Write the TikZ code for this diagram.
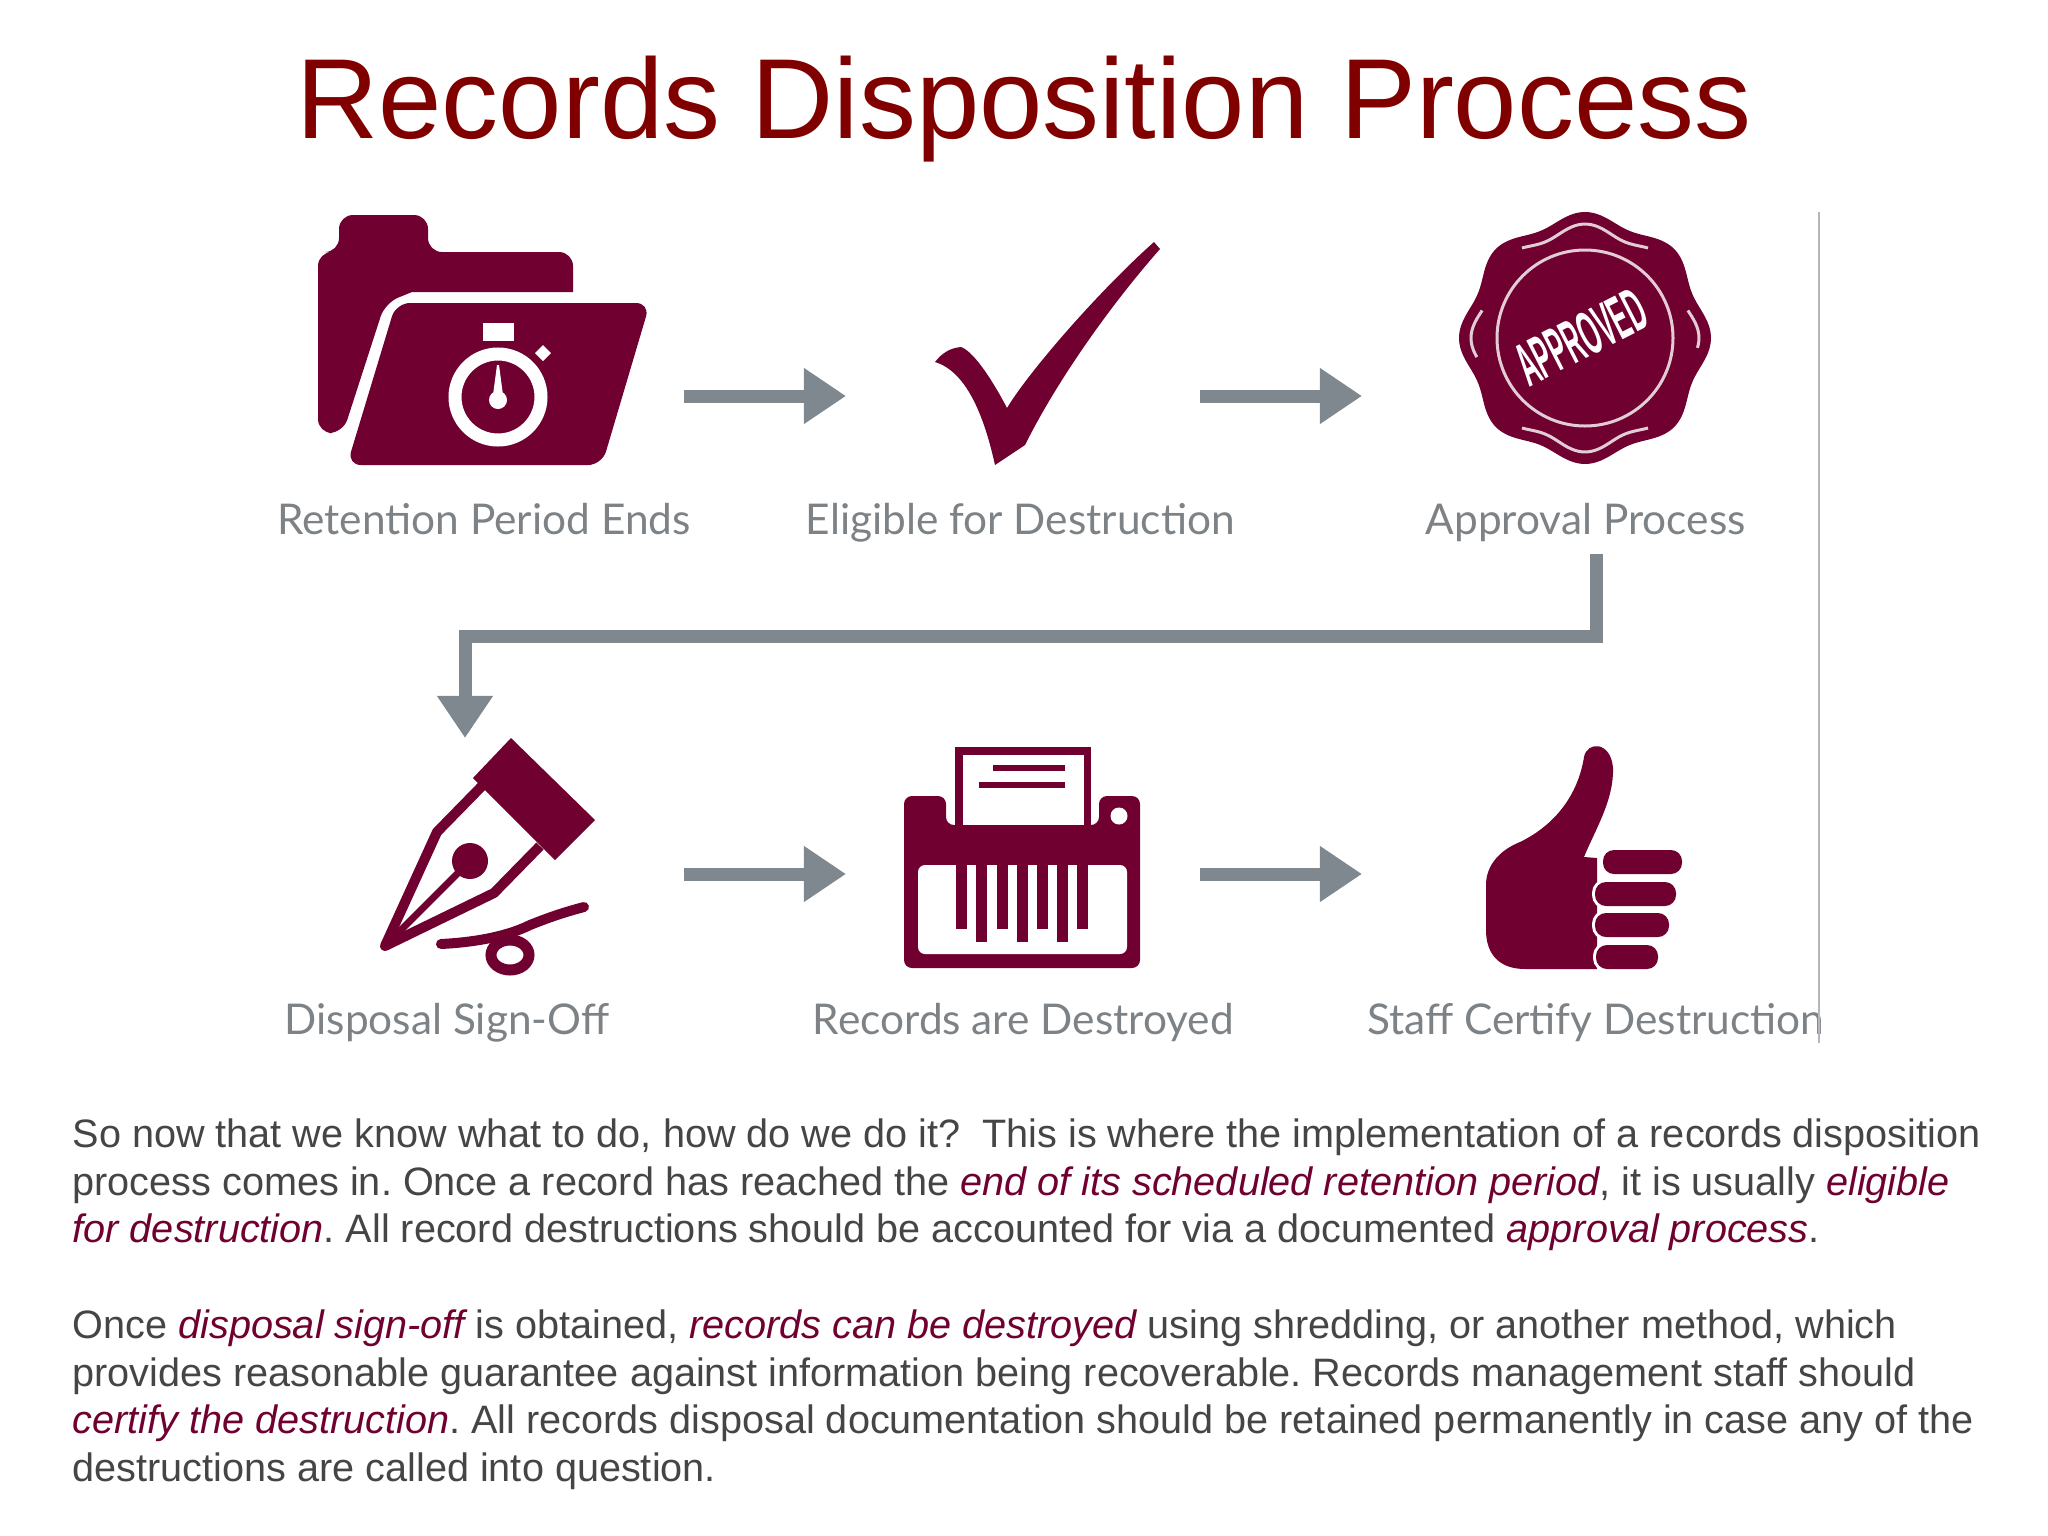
\documentclass[tikz,border=0pt]{standalone}
\usepackage{fontspec}
\setmainfont{Liberation Sans}
\newfontfamily\capfont{Lato}
\usetikzlibrary{arrows.meta,positioning}

\definecolor{maroon}{HTML}{6F0030}
\definecolor{titlered}{HTML}{800000}
\definecolor{bodygray}{HTML}{454545}
\definecolor{capgray}{HTML}{7C8286}
\definecolor{arrowgray}{HTML}{7F888E}
\definecolor{rulegray}{HTML}{B4B8BC}

\tikzstyle{caption} = [inner sep=0pt, text=capgray, font=\capfont\fontsize{12.05}{15}\selectfont, anchor=base]
\tikzstyle{arrow} = [line width=0.13cm, arrowgray, -{Triangle[length=0.42cm,width=0.53cm]}]
\tikzstyle{icon} = [fill=maroon, draw=none]
\tikzstyle{inkline} = [draw=maroon, line width=0.10cm]
\tikzstyle{finger} = [fill=maroon, rounded corners=0.11cm, preaction={draw=white, line width=0.06cm}]
\tikzstyle{rim} = [draw=white!80!maroon, line width=0.03cm]

\newcommand{\hilite}[1]{{\color{maroon}\itshape #1}}

\begin{document}
\frenchspacing
\begin{tikzpicture}[x=0.01cm, y=-0.01cm]
  \useasboundingbox (0,0) rectangle (2048,1536);

  \node (Title) [inner sep=0pt, anchor=base, text=titlered, font=\fontsize{32.37}{36}\selectfont] at (1024,138) {Records Disposition Process};

  % folder
  \fill [icon, rounded corners=0.14cm] (318,252) -- (339,252) -- (339,215) -- (428,215) -- (428,252) -- (573,252) [sharp corners] -- (573,292) -- (412,292) [rounded corners=0.14cm] -- (385,303) -- (343,433) -- (318,433) -- cycle;
  \fill [icon, rounded corners=0.14cm] (396,303) -- (650,303) -- (602,465) -- (347,465) -- cycle;
  \draw [white, line width=0.13cm] (498,397) circle [radius=43];
  \fill [white] (483,323) rectangle (514,341);
  \fill [white] (543,345) -- (551,353) -- (543,361) -- (535,353) -- cycle;
  \fill [white] (497,365) -- (499,365) -- (503,395) -- (493,395) -- cycle;
  \fill [white] (498,400) circle [radius=9];

  % check mark
  \fill [icon] (935,362) .. controls (942,353) and (950,348) .. (961,347) .. controls (975,352) and (995,385) .. (1007,408) .. controls (1030,370) and (1100,290) .. (1154,242) -- (1160,249) .. controls (1115,300) and (1060,375) .. (1025,445) -- (995,465) .. controls (985,420) and (968,372) .. (935,362) -- cycle;

  % seal
  \fill [icon] plot [domain=0:360, samples=145, smooth] ({1585+(121+5*cos(8*\x))*cos(\x)}, {338+(121+5*cos(8*\x))*sin(\x)}) -- cycle;
  \draw [rim] (1585,338) circle [radius=88];
  \draw [rim] plot [domain=235:305, samples=36, smooth] ({1585+(109+5*cos(8*\x))*cos(\x)}, {338+(109+5*cos(8*\x))*sin(\x)});
  \draw [rim] plot [domain=55:125, samples=36, smooth] ({1585+(109+5*cos(8*\x))*cos(\x)}, {338+(109+5*cos(8*\x))*sin(\x)});
  \draw [rim] plot [domain=-15:5, samples=12, smooth] ({1585+(109+5*cos(8*\x))*cos(\x)}, {338+(109+5*cos(8*\x))*sin(\x)});
  \draw [rim] plot [domain=170:195, samples=12, smooth] ({1585+(109+5*cos(8*\x))*cos(\x)}, {338+(109+5*cos(8*\x))*sin(\x)});
  \node (Seal Text) [inner sep=0pt, text=white, rotate=27, font=\bfseries\fontsize{14}{16}\selectfont] at (1581,337) {\scalebox{0.5}[1.25]{APPROVED}};

  % pen
  \fill [icon] (511,738) -- (595,820) -- (555,860) -- (473,778) -- cycle;
  \draw [inkline, line join=round] (482,786) -- (437,832) -- (385,946) -- (494,893) -- (540,846);
  \draw [draw=maroon, line width=0.07cm] (385,946) -- (470,861);
  \fill [icon] (470,861) circle [radius=18];
  \draw [inkline, line cap=round] (441,944) .. controls (480,942) and (510,935) .. (530,925) .. controls (550,917) and (565,912) .. (584,907);
  \draw [draw=maroon, line width=0.11cm] (510,955) ellipse [x radius=19, y radius=15];

  % shredder
  \fill [icon, rounded corners=0.08cm] (904,865) -- (904,796) -- (946,796) -- (946,825) -- (1099,825) -- (1099,796) -- (1140,796) -- (1140,968) -- (904,968) -- cycle;
  \fill [white, rounded corners=0.07cm] (918,865) -- (1127,865) -- (1127,954) -- (918,954) -- cycle;
  \fill [icon] (955,747) rectangle (1091,830);
  \fill [white] (963,755) rectangle (1084,825);
  \fill [icon] (993,765) rectangle (1065,771);
  \fill [icon] (979,782) rectangle (1065,788);
  \fill [white] (1119,816) circle [radius=8.5];
  \fill [icon] (956,865) rectangle (967,929);
  \fill [icon] (976,865) rectangle (987,942);
  \fill [icon] (997,865) rectangle (1008,929);
  \fill [icon] (1017,865) rectangle (1028,942);
  \fill [icon] (1037,865) rectangle (1048,929);
  \fill [icon] (1057,865) rectangle (1068,942);
  \fill [icon] (1077,865) rectangle (1088,929);

  % thumb
  \fill [icon] (1597,969) -- (1525,969) .. controls (1500,969) and (1486,955) .. (1486,930) -- (1486,885) .. controls (1486,865) and (1500,850) .. (1520,842) .. controls (1555,825) and (1578,795) .. (1584,757) .. controls (1587,741) and (1611,741) .. (1613,768) .. controls (1614,800) and (1595,830) .. (1584,857) -- (1597,858) -- cycle;
  \fill [finger] (1603,850) rectangle (1682,874);
  \fill [finger] (1595,882) rectangle (1676,906);
  \fill [finger] (1595,913) rectangle (1669,937);
  \fill [finger] (1596,945) rectangle (1658,969);

  % captions
  \node (Retention Period Ends) [caption] at (484,534) {Retention Period Ends};
  \node (Eligible for Destruction) [caption, right=5.36cm of Retention Period Ends.base, anchor=base] {Eligible for Destruction};
  \node (Approval Process) [caption, right=5.65cm of Eligible for Destruction.base, anchor=base] {Approval Process};
  \node (Disposal Sign-Off) [caption] at (447,1034) {Disposal Sign-Off};
  \node (Records are Destroyed) [caption, right=5.76cm of Disposal Sign-Off.base, anchor=base] {Records are Destroyed};
  \node (Staff Certify Destruction) [caption, right=5.72cm of Records are Destroyed.base, anchor=base] {Staff Certify Destruction};

  \coordinate (Rule Top) at (1819,212);
  \coordinate (Rule Bottom) at (1819,1043);
  \draw [rulegray, line width=0.02cm] (Rule Top) -- (Rule Bottom);

  % arrows
  \coordinate (Folder Out) at (684,396);
  \coordinate (Check In) at (846,396);
  \coordinate (Check Out) at (1200,396);
  \coordinate (Seal In) at (1362,396);
  \coordinate (Approval Out) at (1596,554);
  \coordinate (Bend Right) at (1596,636);
  \coordinate (Bend Left) at (465,636);
  \coordinate (Pen In) at (465,738);
  \coordinate (Pen Out) at (684,874);
  \coordinate (Shredder In) at (846,874);
  \coordinate (Shredder Out) at (1200,874);
  \coordinate (Thumb In) at (1362,874);
  \draw [arrow] (Folder Out) -- (Check In);
  \draw [arrow] (Check Out) -- (Seal In);
  \draw [arrow] (Approval Out) -- (Bend Right) -- (Bend Left) -- (Pen In);
  \draw [arrow] (Pen Out) -- (Shredder In);
  \draw [arrow] (Shredder Out) -- (Thumb In);

  % text under the icons
  \node (Body Text) [inner sep=0pt, anchor=north west, align=left, text=bodygray, font=\fontsize{11.27}{13.58}\selectfont] at (72,1118) {So now that we know what to do, how do we do it?\ \ This is where the implementation of a records disposition\\
  process comes in. Once a record has reached the \hilite{end of its scheduled retention period}, it is usually \hilite{eligible}\\
  \hilite{for destruction}. All record destructions should be accounted for via a documented \hilite{approval process}.\\[13.58pt]
  Once \hilite{disposal sign-off} is obtained, \hilite{records can be destroyed} using shredding, or another method, which\\
  provides reasonable guarantee against information being recoverable. Records management staff should\\
  \hilite{certify the destruction}. All records disposal documentation should be retained permanently in case any of the\\
  destructions are called into question.};
\end{tikzpicture}
\end{document}
